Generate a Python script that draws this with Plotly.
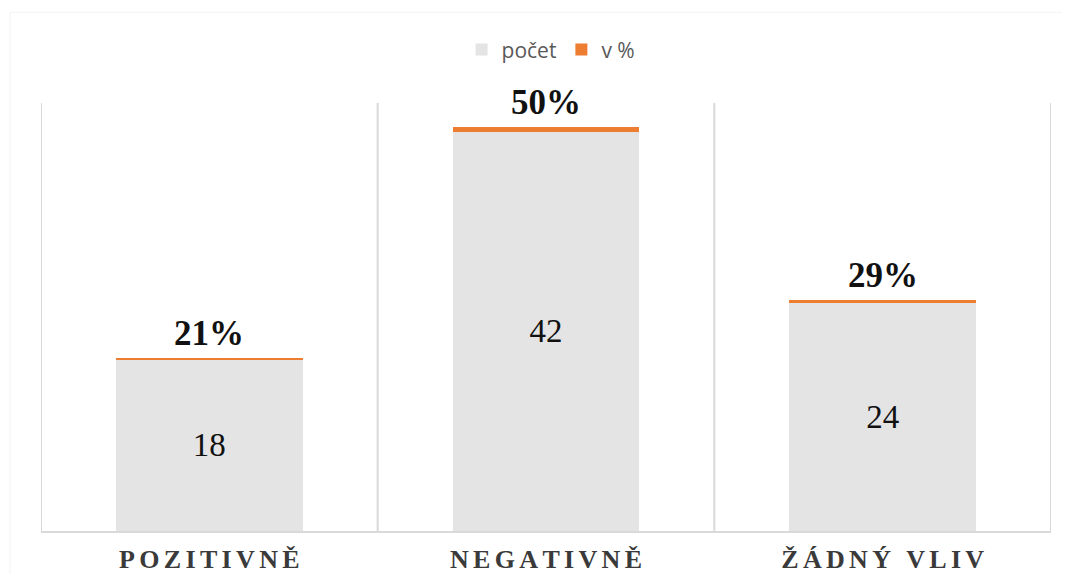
import plotly.graph_objects as go

# Data
categories = ["POZITIVNĚ", "NEGATIVNĚ", "ŽÁDNÝ VLIV"]
counts = [18, 42, 24]           # počet
shares = [0.21, 0.50, 0.29]     # v %

x_pos = list(range(len(categories)))
y_max = 45

GRAY = "#E4E4E4"
ORANGE = "#ED7D31"
GRID = "#D9D9D9"
SERIF = "Liberation Serif, Times New Roman, serif"


def spaced(label):
    # widen the tracking of the category labels
    return "\u2006".join(label)


fig = go.Figure()

fig.add_trace(go.Bar(
    name="počet",
    x=x_pos,
    y=counts,
    width=0.555,
    marker=dict(color=GRAY, line=dict(width=0)),
    text=[str(v) for v in counts],
    textposition="inside",
    insidetextanchor="middle",
    textangle=0,
    textfont=dict(family=SERIF, size=33, color="#111111"),
    hoverinfo="skip",
))

fig.add_trace(go.Bar(
    name="v %",
    x=x_pos,
    y=shares,
    width=0.555,
    marker=dict(color=ORANGE, line=dict(width=0)),
    hoverinfo="skip",
))

# percentage labels above each stack
for xi, c, p in zip(x_pos, counts, shares):
    fig.add_annotation(
        x=xi, y=c + p, xref="x", yref="y",
        text=f"<b>{round(p * 100)}%</b>",
        showarrow=False, yanchor="bottom", yshift=3,
        font=dict(family=SERIF, size=35, color="#111111"),
    )

# vertical separators between categories
for b in [-0.5, 0.5, 1.5, 2.5]:
    fig.add_shape(type="line", xref="x", yref="y",
                  x0=b, x1=b, y0=0, y1=y_max,
                  line=dict(color=GRID, width=2), layer="below")

# faint outer frame (left and top edges)
fig.add_shape(type="path", xref="paper", yref="paper",
              path="M -0.0307,-0.1 L -0.0307,1.212 L 1.0109,1.212",
              line=dict(color="#F3F3F3", width=1), layer="below")

fig.update_layout(
    barmode="stack",
    width=1065, height=577,
    margin=dict(l=41, r=14, t=103, b=46),
    paper_bgcolor="white",
    plot_bgcolor="white",
    bargap=0.445,
    showlegend=True,
    legend=dict(
        orientation="h", x=0.505, xanchor="center", y=1.124, yanchor="middle",
        font=dict(family="Open Sans, Liberation Sans, sans-serif", size=21, color="#595959"),
        itemwidth=30, traceorder="normal",
    ),
    xaxis=dict(
        range=[-0.5, 2.5],
        tickmode="array", tickvals=x_pos, ticktext=[spaced(c) for c in categories],
        tickfont=dict(family=SERIF, size=26, color="#3A3A3A", weight="bold"),
        automargin=False,
        showgrid=False, zeroline=False,
        showline=True, linecolor=GRID, linewidth=2,
        ticks="outside", ticklen=4, tickcolor="rgba(0,0,0,0)",
    ),
    yaxis=dict(
        range=[0, y_max],
        showgrid=False, zeroline=False, showticklabels=False,
        showline=False, ticks="",
    ),
)

fig.write_html("out.html")
